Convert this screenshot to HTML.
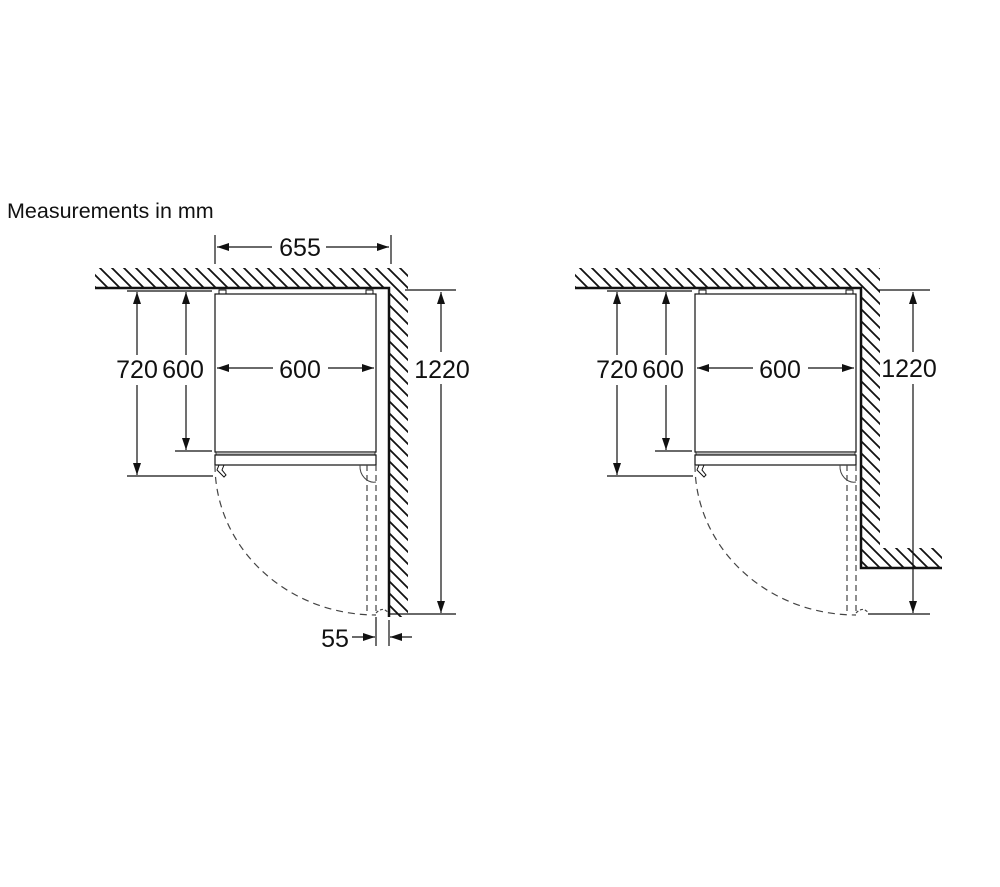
<!DOCTYPE html>
<html><head><meta charset="utf-8"><style>
html,body{margin:0;padding:0;background:#fff;}
svg{display:block;}
text{font-family:"Liberation Sans",sans-serif;fill:#111;}
</style></head><body>
<svg width="1000" height="887" viewBox="0 0 1000 887" xmlns="http://www.w3.org/2000/svg">
<defs>
<pattern id="h" patternUnits="userSpaceOnUse" width="12" height="12">
<path d="M0,0 L12,12 M-2,10 L2,14 M10,-2 L14,2" stroke="#111" stroke-width="1.8"/>
</pattern>
<marker id="a" markerWidth="12" markerHeight="8" refX="12" refY="4" orient="auto" markerUnits="userSpaceOnUse">
<path d="M0,0 L12,4 L0,8 z" fill="#111"/>
</marker>
</defs>
<text x="7" y="218" font-size="21.5">Measurements in mm</text>

<g stroke="#111" fill="none" stroke-width="1.2">
<path d="M95,268 H408 V617 H389 V288 H95 Z" fill="url(#h)" stroke="none"/>
<path d="M95,288 H389 V617" stroke-width="2.5"/>
<rect x="219" y="290" width="7" height="4" stroke-width="1"/>
<rect x="366" y="290" width="7" height="4" stroke-width="1"/>
<rect x="215" y="294" width="161" height="158"/>
<rect x="216" y="452" width="159" height="3" fill="#bbb" stroke-width="0.8"/>
<rect x="215" y="455" width="161" height="10"/>
<path d="M219,465 L217,470 L224,477 L226,475 L222,470 L224,465" stroke-width="1"/>
<path d="M215,465 A161,150 0 0 0 376,615" stroke-dasharray="7,5" stroke="#444"/>
<path d="M367,465 V613 M376,465 V613" stroke-dasharray="6,4" stroke="#444"/>
<path d="M360,465 A14,16 0 0 0 376,482" stroke="#444" stroke-width="1"/>
<path d="M376,613 Q381,608 385,610 L388,612" stroke-dasharray="3,2" stroke="#444"/>
<path d="M215,235 V264 M391,235 V264"/>
<line x1="272" y1="247" x2="217" y2="247" marker-end="url(#a)"/>
<line x1="326" y1="247" x2="389" y2="247" marker-end="url(#a)"/>
<path d="M127,291 H212 M127,476 H213 M175,451 H212"/>
<line x1="137" y1="355" x2="137" y2="292" marker-end="url(#a)"/>
<line x1="137" y1="385" x2="137" y2="475" marker-end="url(#a)"/>
<line x1="186" y1="355" x2="186" y2="292" marker-end="url(#a)"/>
<line x1="186" y1="385" x2="186" y2="450" marker-end="url(#a)"/>
<line x1="273" y1="368" x2="217" y2="368" marker-end="url(#a)"/>
<line x1="328" y1="368" x2="374" y2="368" marker-end="url(#a)"/>
<path d="M405,290 H456 M390,614 H456"/>
<line x1="441" y1="352" x2="441" y2="292" marker-end="url(#a)"/>
<line x1="441" y1="384" x2="441" y2="613" marker-end="url(#a)"/>
<path d="M376,617 V646 M389,620 V646"/>
<line x1="352" y1="637" x2="375" y2="637" marker-end="url(#a)"/>
<line x1="412" y1="637" x2="390" y2="637" marker-end="url(#a)"/>
</g>
<text x="300" y="256" font-size="25" text-anchor="middle">655</text>
<text x="137" y="378" font-size="25" text-anchor="middle">720</text>
<text x="183" y="378" font-size="25" text-anchor="middle">600</text>
<text x="300" y="378" font-size="25" text-anchor="middle">600</text>
<text x="442" y="378" font-size="25" text-anchor="middle">1220</text>
<text x="335" y="647" font-size="25" text-anchor="middle">55</text>

<g stroke="#111" fill="none" stroke-width="1.2">
<path d="M575,268 H880 V548 H942 V568 H861 V288 H575 Z" fill="url(#h)" stroke="none"/>
<path d="M575,288 H861 V568 H942" stroke-width="2.5"/>
<rect x="699" y="290" width="7" height="4" stroke-width="1"/>
<rect x="846" y="290" width="7" height="4" stroke-width="1"/>
<rect x="695" y="294" width="161" height="158"/>
<rect x="696" y="452" width="159" height="3" fill="#bbb" stroke-width="0.8"/>
<rect x="695" y="455" width="161" height="10"/>
<path d="M699,465 L697,470 L704,477 L706,475 L702,470 L704,465" stroke-width="1"/>
<path d="M695,465 A161,150 0 0 0 856,615" stroke-dasharray="7,5" stroke="#444"/>
<path d="M847,465 V613 M856,465 V613" stroke-dasharray="6,4" stroke="#444"/>
<path d="M840,465 A14,16 0 0 0 856,482" stroke="#444" stroke-width="1"/>
<path d="M856,613 Q861,608 865,610 L868,612" stroke-dasharray="3,2" stroke="#444"/>
<path d="M607,291 H692 M607,476 H693 M655,451 H692"/>
<line x1="617" y1="355" x2="617" y2="292" marker-end="url(#a)"/>
<line x1="617" y1="385" x2="617" y2="475" marker-end="url(#a)"/>
<line x1="666" y1="355" x2="666" y2="292" marker-end="url(#a)"/>
<line x1="666" y1="385" x2="666" y2="450" marker-end="url(#a)"/>
<line x1="753" y1="368" x2="697" y2="368" marker-end="url(#a)"/>
<line x1="808" y1="368" x2="854" y2="368" marker-end="url(#a)"/>
<path d="M878,290 H930 M868,614 H930"/>
<line x1="913" y1="352" x2="913" y2="292" marker-end="url(#a)"/>
<line x1="913" y1="384" x2="913" y2="613" marker-end="url(#a)"/>
</g>
<text x="617" y="378" font-size="25" text-anchor="middle">720</text>
<text x="663" y="378" font-size="25" text-anchor="middle">600</text>
<text x="780" y="378" font-size="25" text-anchor="middle">600</text>
<text x="909" y="377" font-size="25" text-anchor="middle">1220</text>
</svg>
</body></html>
